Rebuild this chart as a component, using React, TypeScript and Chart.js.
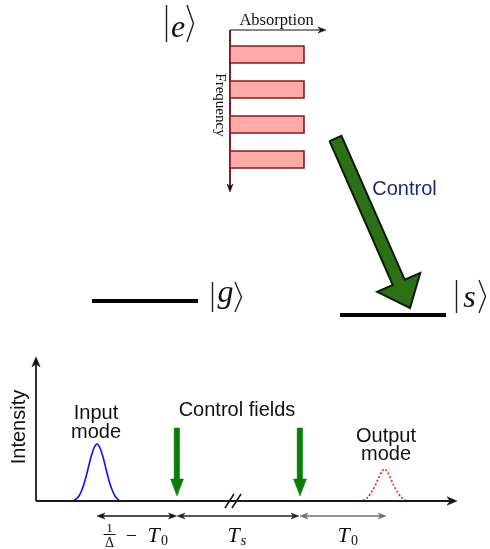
import { useEffect, useRef } from "react";
import { Chart, registerables } from "chart.js";
Chart.register(...registerables);

const W = 490;
const H = 549;
const SANS = '"Liberation Sans", Arial, sans-serif';
const SERIF = '"Liberation Serif", "Times New Roman", serif';

type P = { x: number; y: number };

// ---------- Top panel: atomic levels ----------
const levelG: P[] = [{ x: 92, y: 301 }, { x: 198, y: 301 }];
const levelS: P[] = [{ x: 340, y: 315 }, { x: 446, y: 315 }];

// ket symbols: bar x, top, bottom, bracket x, letter
const ketLetters = ["e", "g", "s"];
const ketBarX = [166.5, 212.5, 456.5];
const ketTop = [5, 282, 280];
const ketBottom = [42, 312, 313];
const ketBracketX = [187, 235, 479];
const ketLetterX = [178, 225.5, 469.5];
const ketBaseline = [37, 302, 306.5];

// inhomogeneous broadening: absorption bars vs frequency
const freqLevels = [54.5, 89.5, 124.5, 159.5];
const absorption = [74, 74, 74, 74];
const barHalf = 8.5;
const axisOrigin: P = { x: 230, y: 30 };
const absorptionEnd = 326;
const frequencyEnd = 192;

// control arrow (tail -> tip)
const controlTail: P = { x: 335.5, y: 138.5 };
const controlTip: P = { x: 410, y: 308 };

// ---------- Bottom panel: time diagram ----------
const originB: P = { x: 36, y: 501 };
const timeEnd = 457;
const intensityEnd = 357;

// input mode pulse (time, intensity)
const inputT = [74, 79, 83, 87, 91, 94, 97, 100, 103, 107, 111, 115, 119];
const inputI = [500.5, 496, 487, 473, 457, 448, 444, 448, 457, 473, 487, 496, 500.5];
// output mode pulse
const outputT = [363, 367, 371, 375, 379, 382, 384.5, 387, 390, 394, 398, 402, 406];
const outputI = [500.5, 498, 493, 486, 477, 471.5, 469, 471.5, 477, 486, 493, 498, 500.5];

const controlTimes = [177, 300];
const controlTop = 428;
const controlTipY = 496;

// time intervals (dimension arrows)
const intervalStart = [97, 177, 300];
const intervalEnd = [176.5, 299, 386];
const intervalColor = ["#111", "#222", "#6d6d6d"];
const intervalY = 516;

// axis break
const breakX = [225, 232];

// fraction bar of 1/Δ
const fractionBar: P[] = [{ x: 103.5, y: 534.5 }, { x: 115.5, y: 534.5 }];

// ---------- geometry helpers ----------
function arrowPoly(tail: P, tip: P, shaftHalf: number, headHalf: number, headLen: number): P[] {
  const dx = tip.x - tail.x, dy = tip.y - tail.y;
  const L = Math.hypot(dx, dy);
  const ux = dx / L, uy = dy / L;
  const nx = -uy, ny = ux;
  const bx = tip.x - ux * headLen, by = tip.y - uy * headLen;
  return [
    { x: tail.x + nx * shaftHalf, y: tail.y + ny * shaftHalf },
    { x: bx + nx * shaftHalf, y: by + ny * shaftHalf },
    { x: bx + nx * headHalf, y: by + ny * headHalf },
    { x: tip.x, y: tip.y },
    { x: bx - nx * headHalf, y: by - ny * headHalf },
    { x: bx - nx * shaftHalf, y: by - ny * shaftHalf },
    { x: tail.x - nx * shaftHalf, y: tail.y - ny * shaftHalf },
    { x: tail.x + nx * shaftHalf, y: tail.y + ny * shaftHalf },
  ];
}

function stealth(tip: P, dx: number, dy: number, len: number, half: number): P[] {
  const nx = -dy, ny = dx;
  const b = { x: tip.x - dx * len, y: tip.y - dy * len };
  const notch = { x: tip.x - dx * len * 0.7, y: tip.y - dy * len * 0.7 };
  return [
    tip,
    { x: b.x + nx * half, y: b.y + ny * half },
    notch,
    { x: b.x - nx * half, y: b.y - ny * half },
    tip,
  ];
}

function lineDs(data: P[], color: string, width: number, extra: any = {}) {
  return {
    type: "line" as const,
    data,
    borderColor: color,
    borderWidth: width,
    pointRadius: 0,
    fill: false,
    tension: 0,
    borderCapStyle: "butt",
    ...extra,
  };
}

function shapeDs(data: P[], fillColor: string, border: string, width: number) {
  return {
    type: "line" as const,
    data,
    borderColor: border,
    borderWidth: width,
    backgroundColor: fillColor,
    pointRadius: 0,
    fill: "shape",
    tension: 0,
    borderJoinStyle: "miter",
  };
}

type Lbl = { t: string; x: number; y: number; font: string; color?: string; rot?: number; align?: CanvasTextAlign };

const labels: Lbl[] = [
  { t: "Absorption", x: 276.5, y: 25, font: `16.5px ${SERIF}` },
  { t: "Frequency", x: 216, y: 105, font: `15px ${SERIF}`, rot: 90 },
  { t: "Control", x: 404.5, y: 195, font: `20px ${SANS}`, color: "#1d2c78" },
  { t: "Intensity", x: 25, y: 427, font: `20px ${SANS}`, rot: -90 },
  { t: "Input", x: 96, y: 419, font: `20px ${SANS}` },
  { t: "mode", x: 96, y: 438, font: `20px ${SANS}` },
  { t: "Control fields", x: 237, y: 416, font: `20px ${SANS}` },
  { t: "Output", x: 386, y: 442, font: `20px ${SANS}` },
  { t: "mode", x: 386, y: 460, font: `20px ${SANS}` },
  // interval labels
  { t: "1", x: 109.5, y: 532, font: `13px ${SERIF}` },
  { t: "Δ", x: 109.5, y: 547, font: `14px ${SERIF}` },
  { t: "−", x: 131.5, y: 542, font: `20px ${SERIF}` },
  { t: "T", x: 153.5, y: 542, font: `italic 22px ${SERIF}` },
  { t: "0", x: 164.5, y: 545, font: `14px ${SERIF}` },
  { t: "T", x: 233.5, y: 542, font: `italic 22px ${SERIF}` },
  { t: "s", x: 243.5, y: 545, font: `italic 15px ${SERIF}` },
  { t: "T", x: 343.5, y: 542, font: `italic 22px ${SERIF}` },
  { t: "0", x: 354.5, y: 545, font: `14px ${SERIF}` },
  // ket letters
  ...ketLetters.map((k, i) => ({ t: k, x: ketLetterX[i], y: ketBaseline[i], font: `italic 32px ${SERIF}` })),
];

const textPlugin = {
  id: "diagramText",
  afterDatasetsDraw(chart: any) {
    const { ctx, scales } = chart;
    for (const l of labels) {
      const px = scales.x.getPixelForValue(l.x);
      const py = scales.y.getPixelForValue(l.y);
      ctx.save();
      ctx.translate(px, py);
      if (l.rot) ctx.rotate((l.rot * Math.PI) / 180);
      ctx.font = l.font;
      ctx.fillStyle = l.color || "#111";
      ctx.textAlign = l.align || "center";
      ctx.textBaseline = "alphabetic";
      ctx.fillText(l.t, 0, 0);
      ctx.restore();
    }
  },
};

function buildDatasets() {
  const ds: any[] = [];

  // big control arrow
  ds.push(shapeDs(arrowPoly(controlTail, controlTip, 6.5, 23.5, 28), "#2b7015", "#0e1a08", 2));

  // level lines
  ds.push(lineDs(levelG, "#000", 4));
  ds.push(lineDs(levelS, "#000", 4));

  // kets
  ketLetters.forEach((_, i) => {
    ds.push(lineDs([{ x: ketBarX[i], y: ketTop[i] }, { x: ketBarX[i], y: ketBottom[i] }], "#222", 1.4));
    ds.push(
      lineDs(
        [
          { x: ketBracketX[i], y: ketTop[i] },
          { x: ketBracketX[i] + 6.5, y: (ketTop[i] + ketBottom[i]) / 2 },
          { x: ketBracketX[i], y: ketBottom[i] },
        ],
        "#222",
        1.4
      )
    );
  });

  // absorption / frequency axes
  ds.push(lineDs([axisOrigin, { x: absorptionEnd - 4, y: axisOrigin.y }], "#111", 1.2));
  ds.push(shapeDs(stealth({ x: absorptionEnd, y: axisOrigin.y }, 1, 0, 8, 3), "#111", "#111", 0.5));
  ds.push(shapeDs(stealth({ x: axisOrigin.x, y: frequencyEnd }, 0, 1, 8, 3), "#111", "#111", 0.5));
  // absorption bars
  freqLevels.forEach((f, i) => {
    const x0 = axisOrigin.x, x1 = axisOrigin.x + absorption[i];
    ds.push(
      shapeDs(
        [
          { x: x0, y: f - barHalf },
          { x: x1, y: f - barHalf },
          { x: x1, y: f + barHalf },
          { x: x0, y: f + barHalf },
          { x: x0, y: f - barHalf },
        ],
        "#ffa9a9",
        "#8a1a1a",
        1.6
      )
    );
  });
  ds.push(lineDs([axisOrigin, { x: axisOrigin.x, y: frequencyEnd - 4 }], "#6e0a0a", 1.8));

  // bottom axes
  ds.push(lineDs([originB, { x: timeEnd - 5, y: originB.y }], "#1a1a1a", 1.8));
  ds.push(lineDs([originB, { x: originB.x, y: intensityEnd + 5 }], "#1a1a1a", 1.8));
  ds.push(shapeDs(stealth({ x: timeEnd, y: originB.y }, 1, 0, 10, 4.2), "#111", "#111", 0.5));
  ds.push(shapeDs(stealth({ x: originB.x, y: intensityEnd }, 0, -1, 10, 4.2), "#111", "#111", 0.5));

  // axis break marks
  breakX.forEach((bx) => {
    ds.push(lineDs([{ x: bx, y: 508 }, { x: bx + 9, y: 494 }], "#111", 1.5));
  });

  // pulses
  ds.push(
    lineDs(
      inputT.map((t, i) => ({ x: t, y: inputI[i] })),
      "#1010ff",
      1.6,
      { cubicInterpolationMode: "monotone" }
    )
  );
  ds.push(
    lineDs(
      outputT.map((t, i) => ({ x: t, y: outputI[i] })),
      "#ff1a1a",
      1.6,
      { cubicInterpolationMode: "monotone", borderDash: [2, 2] }
    )
  );

  // control field arrows
  controlTimes.forEach((t) => {
    ds.push(shapeDs(arrowPoly({ x: t, y: controlTop }, { x: t, y: controlTipY }, 2.6, 6.5, 17), "#0a7d0a", "#0a7d0a", 0.5));
  });

  // interval arrows
  intervalStart.forEach((s, i) => {
    const e = intervalEnd[i];
    const c = intervalColor[i];
    ds.push(lineDs([{ x: s + 3, y: intervalY }, { x: e - 3, y: intervalY }], c, 1.3));
    ds.push(shapeDs(stealth({ x: e, y: intervalY }, 1, 0, 8, 3), c, c, 0.5));
    ds.push(shapeDs(stealth({ x: s, y: intervalY }, -1, 0, 8, 3), c, c, 0.5));
  });

  // fraction bar
  ds.push(lineDs(fractionBar, "#111", 1));

  return ds;
}

export default function App() {
  const ref = useRef<HTMLCanvasElement | null>(null);
  useEffect(() => {
    if (!ref.current) return;
    const chart = new Chart(ref.current, {
      type: "scatter",
      data: { datasets: buildDatasets() },
      options: {
        responsive: false,
        animation: false,
        events: [],
        layout: { padding: 0 },
        plugins: { legend: { display: false }, tooltip: { enabled: false } },
        scales: {
          x: { type: "linear", min: 0, max: W, display: false },
          y: { type: "linear", min: 0, max: H, reverse: true, display: false },
        },
      },
      plugins: [textPlugin],
    } as any);
    return () => chart.destroy();
  }, []);
  return (
    <div style={{ position: "fixed", left: 0, top: 0, width: W, height: H, background: "#fff" }}>
      <canvas ref={ref} width={W} height={H} style={{ display: "block", width: W, height: H }} />
    </div>
  );
}
